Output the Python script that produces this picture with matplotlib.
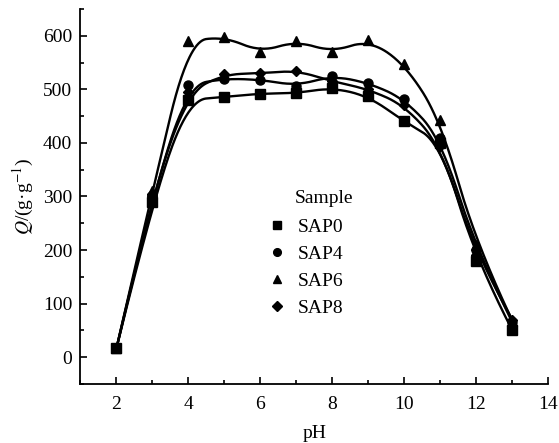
import numpy as np
import matplotlib.pyplot as plt
from matplotlib.ticker import MultipleLocator

plt.rcParams['font.family'] = ['Liberation Serif', 'DejaVu Serif']
plt.rcParams['mathtext.fontset'] = 'stix'

ph = [2, 3, 4, 5, 6, 7, 8, 9, 10, 11, 12, 13]
sap0 = [17, 290, 480, 486, 492, 493, 503, 487, 440, 400, 180, 50]
sap4 = [17, 300, 508, 520, 518, 507, 525, 512, 482, 409, 200, 65]
sap6 = [17, 310, 590, 598, 570, 590, 570, 592, 548, 443, 210, 68]
sap8 = [17, 305, 495, 528, 530, 535, 515, 500, 470, 395, 190, 70]
labels = ['SAP0', 'SAP4', 'SAP6', 'SAP8']
markers = ['s', 'o', '^', 'D']

FS = 14


def bspline(x, y, n=400, k=2):
    # clamped B-spline using the data points as control points
    pts = np.column_stack([x, y]).astype(float)
    m = len(pts)
    knots = np.concatenate([np.zeros(k), np.linspace(0, 1, m - k + 1), np.ones(k)])
    t = np.linspace(0, 1 - 1e-9, n)
    N = np.zeros((n, len(knots) - 1))
    for i in range(len(knots) - 1):
        N[:, i] = (t >= knots[i]) & (t < knots[i + 1])
    for d in range(1, k + 1):
        Nn = np.zeros((n, len(knots) - 1 - d))
        for i in range(len(knots) - 1 - d):
            a = knots[i + d] - knots[i]
            b = knots[i + d + 1] - knots[i + 1]
            left = (t - knots[i]) / a * N[:, i] if a > 0 else 0
            right = (knots[i + d + 1] - t) / b * N[:, i + 1] if b > 0 else 0
            Nn[:, i] = left + right
        N = Nn
    out = N @ pts
    out = np.vstack([out, pts[-1]])
    return out[:, 0], out[:, 1]


fig = plt.figure(figsize=(5.59, 4.43), dpi=100)
ax = fig.add_axes([0.1440, 0.1332, 0.8370, 0.8465])

for ys, lab, mk in zip([sap0, sap4, sap6, sap8], labels, markers):
    bx, by = bspline(ph, ys)
    ax.plot(bx, by, color='black', lw=1.7)
    ax.plot(ph, ys, linestyle='none', marker=mk, color='black',
            markersize=5.5 if mk == 'D' else 6.5, label=lab)

ax.set_xlim(1, 14)
ax.set_ylim(-50, 650)
ax.xaxis.set_major_locator(MultipleLocator(2))
ax.xaxis.set_minor_locator(MultipleLocator(1))
ax.yaxis.set_major_locator(MultipleLocator(100))
ax.yaxis.set_minor_locator(MultipleLocator(50))
ax.tick_params(which='both', direction='in', labelsize=FS, width=1.2)
ax.tick_params(which='major', length=5)
ax.tick_params(which='minor', length=3)
ax.tick_params(axis='x', pad=9)
ax.tick_params(axis='y', pad=6)
ax.spines['top'].set_visible(False)
ax.spines['right'].set_visible(False)
for s in ['left', 'bottom']:
    ax.spines[s].set_linewidth(1.3)

ax.set_xlabel('pH', fontsize=FS, labelpad=8)
ax.set_ylabel(r'$Q$/(g·g$^{-1}$)', fontsize=FS, labelpad=5)

ax.text(0.458, 0.483, 'Sample', transform=ax.transAxes, fontsize=FS,
        ha='left', va='baseline')
ax.legend(frameon=False, fontsize=FS, loc='upper left',
          bbox_to_anchor=(0.388, 0.462), borderaxespad=0,
          handletextpad=0.75, labelspacing=0.48, handlelength=0.7,
          markerscale=0.85)

fig.savefig('out.png', dpi=100)
